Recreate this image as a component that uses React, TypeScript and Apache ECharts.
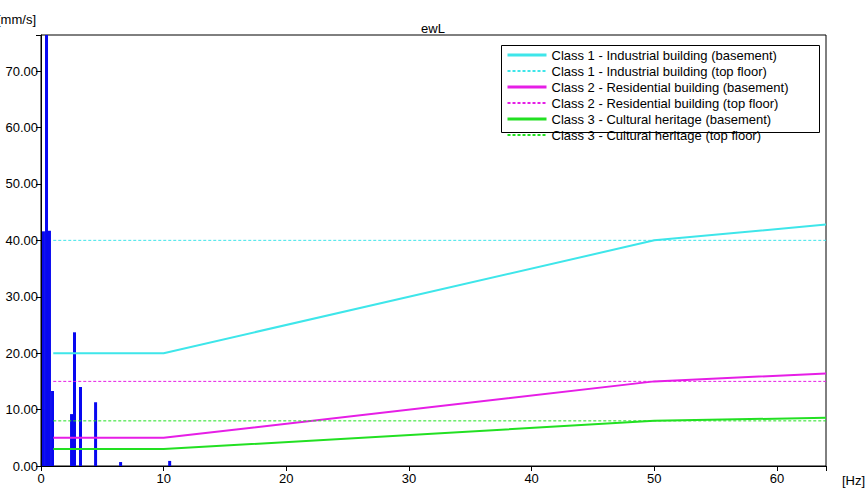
import React, { useEffect, useRef } from "react";
import * as echarts from "echarts";

const barFreqs = [0.2, 0.45, 0.69, 0.94, 2.49, 2.73, 3.22, 4.45, 6.49, 10.49];
const barValues = [41.6, 80, 41.7, 13.3, 9.2, 23.7, 14.0, 11.3, 0.7, 0.9];

const class1Base: [number, number][] = [[1, 20], [10, 20], [50, 40], [64, 42.8]];
const class1Top: [number, number][] = [[1, 40], [64, 40]];
const class2Base: [number, number][] = [[1, 5], [10, 5], [50, 15], [64, 16.4]];
const class2Top: [number, number][] = [[1, 15], [64, 15]];
const class3Base: [number, number][] = [[1, 3], [10, 3], [50, 8], [64, 8.56]];
const class3Top: [number, number][] = [[1, 8], [64, 8]];

const seriesNames = [
  "Class 1 - Industrial building (basement)",
  "Class 1 - Industrial building (top floor)",
  "Class 2 - Residential building (basement)",
  "Class 2 - Residential building (top floor)",
  "Class 3 - Cultural heritage (basement)",
  "Class 3 - Cultural heritage (top floor)",
];

const CYAN = "#3ee6ea";
const MAGENTA = "#e61ee6";
const GREEN = "#22e022";
const BLUE = "#0808f0";
const FONT = "Liberation Sans";

export default function App() {
  const ref = useRef<HTMLDivElement>(null);
  useEffect(() => {
    if (!ref.current) return;
    const chart = echarts.init(ref.current, null, { renderer: "svg" });
    const lineS = (name: string, data: [number, number][], color: string, dashed: boolean) => ({
      name,
      type: "line",
      data,
      symbol: "none",
      showSymbol: false,
      z: 3,
      lineStyle: dashed ? { color, width: 1, type: [3, 2] } : { color, width: 2, type: "solid" },
      itemStyle: { color },
    });
    const fmt = (v: number) => (Math.abs(v % 10) < 1e-9 ? v.toFixed(2) : "");
    const fmtX = (v: number) => (Math.abs(v % 10) < 1e-9 ? String(v) : "");
    chart.setOption({
      animation: false,
      backgroundColor: "#ffffff",
      textStyle: { fontFamily: FONT, color: "#000" },
      title: {
        text: "ewL",
        left: "center",
        top: 17,
        textStyle: { fontFamily: FONT, fontSize: 13, fontWeight: "normal", color: "#000" },
      },
      grid: {
        left: 41,
        top: 35,
        right: 40,
        bottom: 35,
        show: true,
        borderColor: "#000",
        borderWidth: 1,
        backgroundColor: "#fff",
      },
      legend: {
        data: seriesNames.map((n, i) =>
          i % 2 === 0 ? { name: n, lineStyle: { width: 3 } } : { name: n }
        ),
        orient: "vertical",
        left: 506,
        top: 47,
        itemWidth: 39,
        itemHeight: 16,
        itemGap: 0,
        padding: 0,
        itemStyle: { opacity: 0 },
        textStyle: { fontFamily: FONT, fontSize: 13, lineHeight: 16, color: "#000" },
      },
      xAxis: {
        type: "value",
        min: 0,
        max: 64,
        interval: 10,
        axisLine: { lineStyle: { color: "#000", width: 1 } },
        axisTick: { show: true, length: 5, lineStyle: { color: "#000" } },
        axisLabel: { formatter: fmtX, color: "#000", fontSize: 13, fontFamily: FONT, margin: 6 },
        splitLine: { show: false },
      },
      yAxis: {
        type: "value",
        min: 0,
        max: 76.4,
        interval: 10,
        axisLine: { show: true, lineStyle: { color: "#000", width: 1 } },
        axisTick: { show: true, length: 5, lineStyle: { color: "#000" } },
        axisLabel: { formatter: fmt, color: "#000", fontSize: 13, fontFamily: FONT, margin: 3 },
        splitLine: { show: false },
      },
      graphic: [
        {
          type: "text",
          left: -3,
          top: 13,
          style: { text: "[mm/s]", fontFamily: FONT, fontSize: 13, fill: "#000" },
        },
        {
          type: "text",
          left: 842,
          top: 474,
          style: { text: "[Hz]", fontFamily: FONT, fontSize: 13, fill: "#000" },
        },
        {
          type: "rect",
          shape: { x: 501.5, y: 45.5, width: 318, height: 87 },
          style: { fill: "none", stroke: "#000", lineWidth: 1 },
          z: 100,
        },
      ],
      series: [
        {
          name: "measured",
          type: "bar",
          data: barFreqs.map((f, i) => [f, barValues[i]]),
          barWidth: 3,
          clip: true,
          z: 2,
          itemStyle: { color: BLUE },
        },
        lineS(seriesNames[0], class1Base, CYAN, false),
        lineS(seriesNames[1], class1Top, CYAN, true),
        lineS(seriesNames[2], class2Base, MAGENTA, false),
        lineS(seriesNames[3], class2Top, MAGENTA, true),
        lineS(seriesNames[4], class3Base, GREEN, false),
        lineS(seriesNames[5], class3Top, GREEN, true),
      ],
    });
    return () => chart.dispose();
  }, []);
  return (
    <div
      ref={ref}
      style={{ position: "fixed", left: 0, top: 0, width: 866, height: 501 }}
    />
  );
}
